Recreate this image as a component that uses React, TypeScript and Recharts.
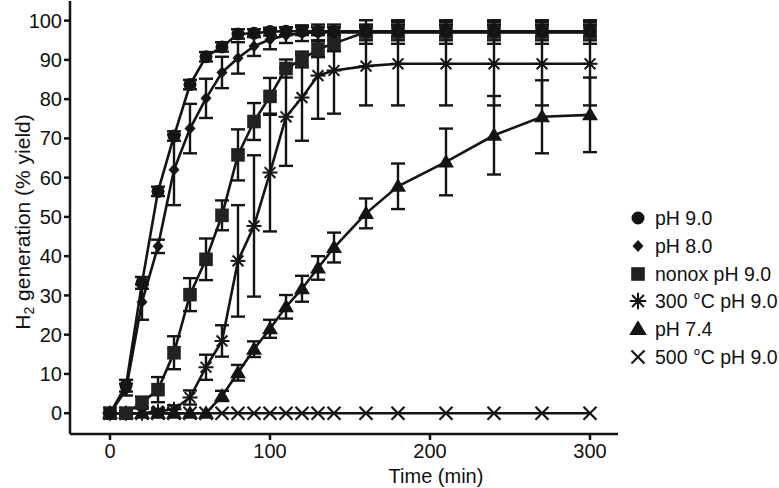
import React from 'react';
import { LineChart, Line, XAxis, YAxis, ErrorBar, Legend } from 'recharts';

const times = [0, 10, 20, 30, 40, 50, 60, 70, 80, 90, 100, 110, 120, 130, 140, 160, 180, 210, 240, 270, 300];

const ph90 = [0, 7, 33.2, 56.5, 70.6, 83.7, 90.8, 93.3, 96.6, 96.8, 97.2, 97.3, 97.3, 97.3, 97.3, 97.3, 97.3, 97.3, 97.3, 97.3, 97.3];
const ph90Err = [0, 1.5, 1.5, 1.2, 1.2, 1.2, 1.2, 1.2, 1.2, 1, 1, 1, 1, 1, 1, 1.5, 1.5, 1.5, 1.5, 1.5, 1.5];

const ph80 = [0, 6, 28.3, 42.5, 62, 72.5, 80.2, 86.8, 90.5, 93.5, 95.2, 96.3, 96.8, 97, 97, 97, 97, 97, 97, 97, 97];
const ph80Err = [0, 1.5, 4.5, 1.7, 9, 6.3, 5, 4, 4, 2.5, 2.5, 2, 2, 2, 2, 2, 2, 2, 2, 2, 2];

const nonox = [0, 0, 2.7, 6, 15.4, 30.2, 39.2, 50.4, 65.8, 74.3, 80.7, 87.8, 90.1, 92.7, 94.2, 97.1, 97.1, 97.1, 97.1, 97.1, 97.1];
const nonoxErr = [0, 0.5, 1.5, 3.2, 4.2, 4.2, 5.3, 3.8, 6.5, 4.7, 4.7, 2.3, 2, 2, 2, 3, 3, 3, 3, 3, 3];

const c300 = [0, 0, 0, 0.5, 1, 4, 11.7, 18.4, 38.8, 47.7, 61.3, 75.5, 80.4, 86, 87.3, 88.4, 89, 89, 89, 89, 89];
const c300Err = [0, 0, 0, 0.5, 1, 1.8, 3.2, 4, 14.2, 18, 15, 12.5, 11, 11, 11, 10, 10.6, 10.6, 10.6, 10.6, 10.6];

const ph74 = [0, 0, 0, 0, 0, 0, 0, 4.4, 10.3, 16.3, 21.5, 27.1, 31.7, 37, 42.2, 50.9, 57.8, 64, 70.8, 75.5, 76];
const ph74Err = [0, 0, 0, 0, 0, 0, 0, 1.3, 2, 2, 2.3, 3, 3.3, 3, 3.8, 3.8, 5.8, 8.5, 10, 9.3, 9.5];

const c500 = [0, 0, 0, 0, 0, 0, 0, 0, 0, 0, 0, 0, 0, 0, 0, 0, 0, 0, 0, 0, 0];

const yTicks = [0, 10, 20, 30, 40, 50, 60, 70, 80, 90, 100];
const xTicks = [0, 100, 200, 300];

const seriesNames = ['pH 9.0', 'pH 8.0', 'nonox pH 9.0', '300 °C pH 9.0', 'pH 7.4', '500 °C pH 9.0'];
const seriesKinds = ['circle', 'diamond', 'square', 'asterisk', 'triangle', 'cross'];

const data = times.map((t, i) => ({
  t,
  ph90: ph90[i], ph90e: ph90Err[i],
  ph80: ph80[i], ph80e: ph80Err[i],
  nonox: nonox[i], nonoxe: nonoxErr[i],
  c300: c300[i], c300e: c300Err[i],
  ph74: ph74[i], ph74e: ph74Err[i],
  c500: c500[i],
}));

const INK = '#141414';

function Marker({ kind, cx, cy, scale = 1 }: { kind: string; cx: number; cy: number; scale?: number }) {
  const s = scale;
  switch (kind) {
    case 'circle':
      return <circle cx={cx} cy={cy} r={6.5 * s} fill={INK} />;
    case 'diamond':
      return (
        <polygon
          points={`${cx},${cy - 6 * s} ${cx + 5.5 * s},${cy} ${cx},${cy + 6 * s} ${cx - 5.5 * s},${cy}`}
          fill={INK}
        />
      );
    case 'square':
      return <rect x={cx - 6.8 * s} y={cy - 6.8 * s} width={13.6 * s} height={13.6 * s} fill="#222" />;
    case 'asterisk': {
      const r = 7.5 * s;
      const d = r * 0.72;
      return (
        <g stroke={INK} strokeWidth={2}>
          <line x1={cx} y1={cy - r} x2={cx} y2={cy + r} />
          <line x1={cx - r} y1={cy} x2={cx + r} y2={cy} />
          <line x1={cx - d} y1={cy - d} x2={cx + d} y2={cy + d} />
          <line x1={cx - d} y1={cy + d} x2={cx + d} y2={cy - d} />
        </g>
      );
    }
    case 'triangle':
      return (
        <polygon
          points={`${cx},${cy - 8 * s} ${cx + 8 * s},${cy + 5.5 * s} ${cx - 8 * s},${cy + 5.5 * s}`}
          fill={INK}
        />
      );
    case 'cross': {
      const r = 6.5 * s;
      return (
        <g stroke={INK} strokeWidth={2.2}>
          <line x1={cx - r} y1={cy - r} x2={cx + r} y2={cy + r} />
          <line x1={cx - r} y1={cy + r} x2={cx + r} y2={cy - r} />
        </g>
      );
    }
    default:
      return null;
  }
}

const makeDot = (kind: string) => (props: any) => {
  const { cx, cy, index } = props;
  if (cx == null || cy == null) return <g key={`${kind}-${index}`} />;
  return <Marker key={`${kind}-${index}`} kind={kind} cx={cx} cy={cy} />;
};

const FONT = '"Liberation Sans", Arial, Helvetica, sans-serif';

function LegendContent() {
  return (
    <div style={{ fontFamily: FONT, fontSize: 19.5, color: '#111' }}>
      {seriesNames.map((name, i) => (
        <div key={name} style={{ display: 'flex', alignItems: 'center', height: 27.7 }}>
          <svg width={20} height={20} style={{ display: 'block', marginRight: 7 }}>
            <Marker kind={seriesKinds[i]} cx={10} cy={10} scale={seriesKinds[i] === 'asterisk' || seriesKinds[i] === 'triangle' ? 1.1 : 1} />
          </svg>
          <span style={{ whiteSpace: 'nowrap', lineHeight: '20px' }}>{name}</span>
        </div>
      ))}
    </div>
  );
}

const YLabel = () => (
  <text
    x={30}
    y={222}
    transform="rotate(-90 30 222)"
    textAnchor="middle"
    fontSize={21}
    fill="#111"
    fontFamily={FONT}
  >
    H<tspan dy={4} fontSize={14}>2</tspan>
    <tspan dy={-4}> generation (% yield)</tspan>
  </text>
);

const XLabel = () => (
  <text x={436} y={483} textAnchor="middle" fontSize={20} fill="#111" fontFamily={FONT}>
    Time (min)
  </text>
);

export default function App() {
  const lineProps = {
    type: 'linear' as const,
    stroke: INK,
    strokeWidth: 2.6,
    isAnimationActive: false,
    activeDot: false as const,
    legendType: 'none' as const,
  };
  const ebProps = { width: 7, stroke: INK, strokeWidth: 2.4, direction: 'y' as const };
  return (
    <div style={{ position: 'absolute', left: 0, top: 0, width: 779, height: 488, background: '#fff', fontFamily: FONT }}>
      <LineChart width={779} height={488} data={data} margin={{ top: 1, right: 161, bottom: 0, left: 10 }}>
        <XAxis
          dataKey="t"
          type="number"
          domain={[-25, 317.5]}
          ticks={xTicks}
          allowDataOverflow
          height={54}
          stroke={INK}
          strokeWidth={2.5}
          tickSize={6}
          tickMargin={4}
          tick={{ fill: '#111', fontSize: 20, fontFamily: FONT }}
          label={{ content: () => <XLabel /> }}
        />
        <YAxis
          type="number"
          domain={[-5.3, 105]}
          ticks={yTicks}
          allowDataOverflow
          width={60}
          stroke={INK}
          strokeWidth={2.5}
          tickSize={6}
          tickMargin={2}
          tick={{ fill: '#111', fontSize: 20, fontFamily: FONT }}
          label={{ content: () => <YLabel /> }}
        />
        <Line dataKey="c500" name={seriesNames[5]} {...lineProps} dot={makeDot('cross')} />
        <Line dataKey="ph74" name={seriesNames[4]} {...lineProps} dot={makeDot('triangle')}>
          <ErrorBar dataKey="ph74e" {...ebProps} />
        </Line>
        <Line dataKey="c300" name={seriesNames[3]} {...lineProps} dot={makeDot('asterisk')}>
          <ErrorBar dataKey="c300e" {...ebProps} />
        </Line>
        <Line dataKey="nonox" name={seriesNames[2]} {...lineProps} dot={makeDot('square')}>
          <ErrorBar dataKey="nonoxe" {...ebProps} />
        </Line>
        <Line dataKey="ph80" name={seriesNames[1]} {...lineProps} dot={makeDot('diamond')}>
          <ErrorBar dataKey="ph80e" {...ebProps} />
        </Line>
        <Line dataKey="ph90" name={seriesNames[0]} {...lineProps} dot={makeDot('circle')}>
          <ErrorBar dataKey="ph90e" {...ebProps} />
        </Line>
        <Legend
          layout="vertical"
          align="center"
          verticalAlign="middle"
          content={() => <LegendContent />}
          wrapperStyle={{ position: 'absolute', left: 628, top: 204.5, width: 150, height: 170 }}
        />
      </LineChart>
    </div>
  );
}
